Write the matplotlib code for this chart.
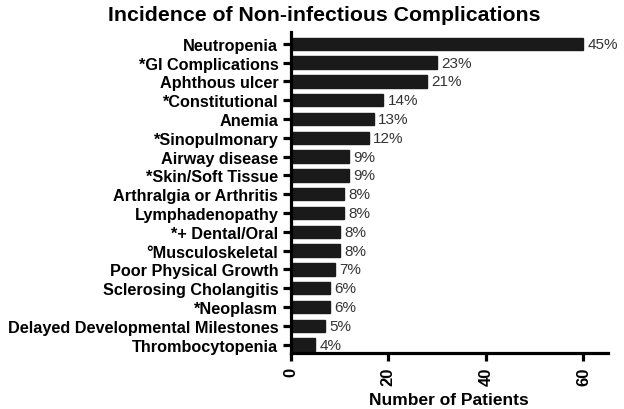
import matplotlib
matplotlib.use("Agg")
import matplotlib.pyplot as plt

plt.rcParams["font.family"] = ["Liberation Sans", "DejaVu Sans"]

categories = [
    "Neutropenia", "*GI Complications", "Aphthous ulcer", "*Constitutional",
    "Anemia", "*Sinopulmonary", "Airway disease", "*Skin/Soft Tissue",
    "Arthralgia or Arthritis", "Lymphadenopathy", "*+ Dental/Oral",
    "\u00b0Musculoskeletal", "Poor Physical Growth", "Sclerosing Cholangitis",
    "*Neoplasm", "Delayed Developmental Milestones", "Thrombocytopenia",
]
patients = [60, 30, 28, 19, 17, 16, 12, 12, 11, 11, 10, 10, 9, 8, 8, 7, 5]
percent_labels = ["45%", "23%", "21%", "14%", "13%", "12%", "9%", "9%", "8%",
                  "8%", "8%", "8%", "7%", "6%", "6%", "5%", "4%"]

fig = plt.figure(figsize=(6.24, 4.10), dpi=100)
ax = fig.add_axes([0.466, 0.137, 0.508, 0.783])

ypos = list(range(len(categories)))
ax.barh(ypos, patients, height=0.66, color="#1a1a1a", edgecolor="#1a1a1a")
for y, v, lab in zip(ypos, patients, percent_labels):
    ax.text(v + 0.9, y, lab, va="center", ha="left", fontsize=11,
            color="#333333")

ax.set_ylim(len(categories) - 0.56, -0.64)
ax.set_xlim(0, 65)
ax.set_yticks(ypos)
ax.set_yticklabels(categories, fontsize=11.7, fontweight="bold")
ax.set_xticks([0, 20, 40, 60])
ax.set_xticklabels(["0", "20", "40", "60"], rotation=90, fontsize=12,
                   fontweight="bold")

for s in ("top", "right"):
    ax.spines[s].set_visible(False)
for s in ("left", "bottom"):
    ax.spines[s].set_linewidth(2.3)
ax.tick_params(axis="y", width=2.3, length=6, direction="out", pad=3)
ax.tick_params(axis="x", width=2.3, length=6, direction="out", pad=4)

ax.set_xlabel("Number of Patients", fontsize=12.5, fontweight="bold",
              labelpad=5)
fig.text(0.52, 0.963, "Incidence of Non-infectious Complications",
         ha="center", va="center", fontsize=15.3, fontweight="bold")

fig.savefig("out.png", dpi=100)
